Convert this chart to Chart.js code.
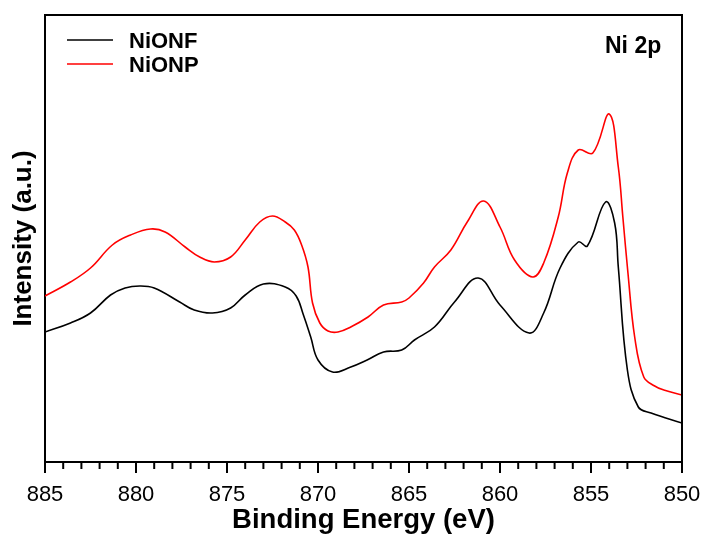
<!DOCTYPE html>
<html>
<head>
  <title>Ni 2p XPS</title>
  <script src="https://cdn.jsdelivr.net/npm/chart.js"></script>
  <style>
    body {
      margin: 0;
      background-color: #ffffff;
    }
    #wrap {
      width: 702px;
      height: 540px;
    }
  </style>
</head>
<body>
  <div id="wrap">
    <canvas id="grafico" width="702" height="540"></canvas>
  </div>

  <script>
    // Binding energy (eV) and intensity (a.u.)
    var energiaNF = [885, 883.6, 882.5, 881.4, 880.6, 879.8, 879.0, 877.6, 876.8, 875.8,
      874.8, 874.0, 873.0, 871.8, 871.2, 870.8, 870.4, 870.0, 869.2, 868.2,
      867.3, 866.4, 865.4, 864.7, 863.6, 862.5, 861.2, 860.0, 858.4, 857.6,
      856.7, 855.7, 855.2, 854.2, 853.7, 853.5, 853.0, 852.4, 851.7, 850];
    var intensidadeNF = [130, 139, 149, 167, 174, 176, 174, 160, 152, 149,
      154, 167, 178, 175, 166, 147, 125, 102, 90, 95,
      102, 110, 112, 122, 135, 160, 184, 157, 129, 149,
      194, 220, 216, 260, 239, 195, 92, 55, 49, 39];

    var energiaNP = [885, 883.6, 882.5, 881.3, 880.3, 879.2, 878.4, 877.3, 876.5, 875.7,
      874.8, 874.0, 873.2, 872.5, 871.8, 871.3, 870.9, 870.55, 870.3, 869.9,
      869.45, 868.9, 868.2, 867.25, 866.4, 865.4, 865.0, 864.2, 863.6, 862.7,
      861.8, 860.9, 860.0, 859.2, 858.2, 857.6, 856.8, 856.3, 855.7, 854.9,
      854.0, 853.5, 853.25, 852.97, 852.6, 852.1, 851.5, 851.0, 850];
    var intensidadeNP = [166, 180, 194, 217, 227, 233, 230, 215, 205, 200,
      205, 222, 240, 246, 240, 232, 217, 195, 159, 139,
      131, 130, 135, 145, 157, 160, 164, 179, 195, 212,
      240, 261, 235, 202, 185, 199, 245, 289, 312, 309,
      348, 295, 245, 189, 125, 85, 76, 72, 67];

    var rotulos = ["NiONF", "NiONP"];
    var cores = ["#000000", "#ff0000"];

    function pontos(xs, ys) {
      var out = [];
      for (var i = 0; i < xs.length; i++) out.push({ x: xs[i], y: ys[i] });
      return out;
    }

    var fonte = "'Liberation Sans', Arial, sans-serif";

    var moldura = {
      id: "moldura",
      afterDraw: function (chart) {
        var ctx = chart.ctx;
        var area = chart.chartArea;
        var x = chart.scales.x;
        ctx.save();
        ctx.strokeStyle = "#000";
        ctx.lineWidth = 2;
        ctx.beginPath();
        ctx.moveTo(area.left, area.top);
        ctx.lineTo(area.right, area.top);
        ctx.lineTo(area.right, area.bottom);
        ctx.stroke();

        // tick marks, outward, long every 5 eV
        x.ticks.forEach(function (t) {
          var px = x.getPixelForValue(t.value);
          var len = t.value % 5 === 0 ? 11 : 7;
          ctx.beginPath();
          ctx.moveTo(px, area.bottom);
          ctx.lineTo(px, area.bottom + len);
          ctx.stroke();
        });

        // legend
        ctx.lineWidth = 1.6;
        ctx.font = "bold 22px " + fonte;
        ctx.textBaseline = "alphabetic";
        ctx.fillStyle = "#000";
        chart.data.datasets.forEach(function (ds, i) {
          var y = 40 + i * 24;
          ctx.strokeStyle = ds.borderColor;
          ctx.beginPath();
          ctx.moveTo(67, y);
          ctx.lineTo(113, y);
          ctx.stroke();
          ctx.fillText(ds.label, 129, y + 8);
        });

        ctx.font = "bold 23px " + fonte;
        ctx.fillText("Ni 2p", 605, 53);
        ctx.restore();
      }
    };

    var ctx = document.getElementById("grafico").getContext("2d");
    var chart = new Chart(ctx, {
      type: "line",
      data: {
        datasets: [
          {
            label: rotulos[0],
            data: pontos(energiaNF, intensidadeNF),
            borderColor: cores[0],
            borderWidth: 1.6,
            pointRadius: 0,
            tension: 0.4
          },
          {
            label: rotulos[1],
            data: pontos(energiaNP, intensidadeNP),
            borderColor: cores[1],
            borderWidth: 1.6,
            pointRadius: 0,
            tension: 0.4
          }
        ]
      },
      options: {
        responsive: false,
        animation: false,
        layout: { padding: { top: 15, right: 20, left: 0, bottom: 0 } },
        plugins: {
          legend: { display: false },
          tooltip: { enabled: false }
        },
        scales: {
          x: {
            type: "linear",
            reverse: true,
            min: 850,
            max: 885,
            afterFit: function (s) {
              s.height = 78;
              s.paddingLeft = 0;
              s.paddingRight = 0;
            },
            border: { color: "#000", width: 2 },
            grid: { display: false, drawTicks: false },
            ticks: {
              stepSize: 1,
              autoSkip: false,
              maxRotation: 0,
              padding: 20,
              color: "#000",
              font: { family: fonte, size: 22 },
              callback: function (v) { return v % 5 === 0 ? v : ""; }
            },
            title: {
              display: true,
              text: "Binding Energy (eV)",
              color: "#000",
              padding: { top: 0, bottom: 3 },
              font: { family: fonte, size: 27.5, weight: "bold" }
            }
          },
          y: {
            min: 0,
            max: 447,
            afterFit: function (s) { s.width = 45; },
            border: { color: "#000", width: 2 },
            grid: { display: false, drawTicks: false },
            ticks: { display: false },
            title: {
              display: true,
              text: "Intensity (a.u.)",
              color: "#000",
              padding: { top: 8, bottom: 0 },
              font: { family: fonte, size: 26, weight: "bold" }
            }
          }
        }
      },
      plugins: [moldura]
    });
  </script>
</body>
</html>
